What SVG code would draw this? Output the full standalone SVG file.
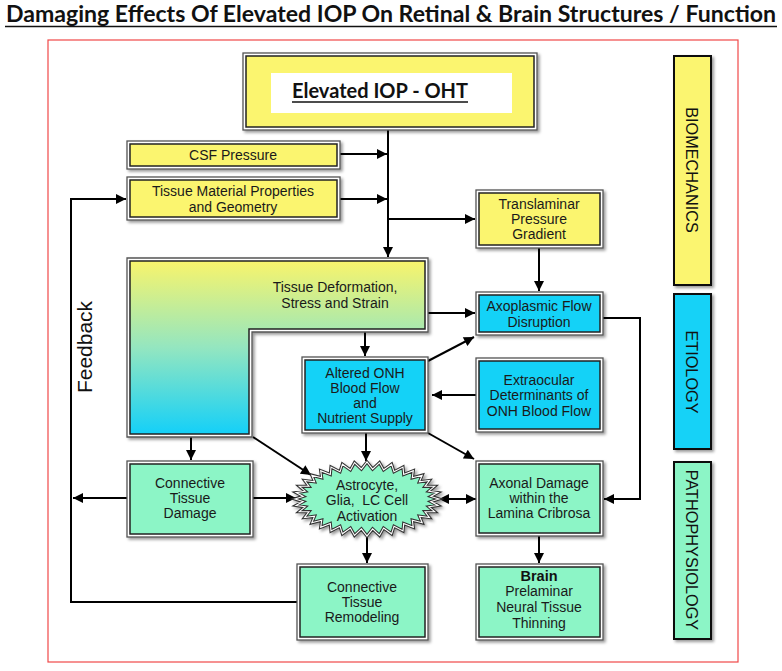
<svg xmlns="http://www.w3.org/2000/svg" width="782" height="671" viewBox="0 0 782 671">
<style>
.t{font-family:"Liberation Sans",Arial,sans-serif;font-size:14px;fill:#1a1a1a;text-anchor:middle}
.side{font-family:"Liberation Sans",Arial,sans-serif;font-size:16.3px;fill:#111;text-anchor:middle}
.ob{fill:#fff;stroke:#555;stroke-width:1.3}
.ib{stroke:#222;stroke-width:1.5}
.y{fill:#fbf56f}
.c{fill:#14d2f7}
.g{fill:#8cf5c6}
.sb{stroke:#111;stroke-width:2}
.cn{fill:none;stroke:#000;stroke-width:2}
</style>
<defs>
<filter id="sh" x="-10%" y="-10%" width="130%" height="130%"><feDropShadow dx="2" dy="2" stdDeviation="1.5" flood-color="#000" flood-opacity="0.4"/></filter>
<linearGradient id="grad" x1="0" y1="261" x2="0" y2="434" gradientUnits="userSpaceOnUse"><stop offset="0" stop-color="#f8f46c"/><stop offset="0.5" stop-color="#94e6c0"/><stop offset="1" stop-color="#14d0f8"/></linearGradient>
<marker id="ah" viewBox="0 0 10 10" refX="10" refY="5" markerWidth="11" markerHeight="10" markerUnits="userSpaceOnUse" orient="auto-start-reverse"><path d="M0,0 L10,5 L0,10 Z" fill="#000"/></marker>
</defs>
<rect width="782" height="671" fill="#fff"/>
<g id="title">
<text x="391" y="22" font-family="Lato,'Liberation Sans',sans-serif" font-weight="700" font-size="22.5" text-anchor="middle" textLength="770" lengthAdjust="spacingAndGlyphs" fill="#111">Damaging Effects Of Elevated IOP On Retinal &amp; Brain Structures / Function</text>
<line x1="5" y1="26.5" x2="777" y2="26.5" stroke="#111" stroke-width="1.6"/>
</g>
<rect id="frame" x="48" y="40" width="690" height="622" fill="none" stroke="#f04848" stroke-width="1.2"/>

<g id="connectors">
<line class="cn" x1="388" y1="130" x2="388" y2="257" marker-end="url(#ah)"/>
<line class="cn" x1="340" y1="154" x2="387" y2="154" marker-end="url(#ah)"/>
<line class="cn" x1="340" y1="199" x2="387" y2="199" marker-end="url(#ah)"/>
<line class="cn" x1="388" y1="219" x2="475" y2="219" marker-end="url(#ah)"/>
<line class="cn" x1="539" y1="248" x2="539" y2="291" marker-end="url(#ah)"/>
<line class="cn" x1="428" y1="313" x2="475" y2="313" marker-end="url(#ah)"/>
<polyline class="cn" points="603,318 640,318 640,499 604,499" marker-end="url(#ah)"/>
<line class="cn" x1="365" y1="332" x2="365" y2="356" marker-end="url(#ah)"/>
<line class="cn" x1="428" y1="361" x2="474" y2="337" marker-end="url(#ah)"/>
<line class="cn" x1="476" y1="395" x2="432" y2="395" marker-end="url(#ah)"/>
<line class="cn" x1="428" y1="433" x2="474" y2="459" marker-end="url(#ah)"/>
<line class="cn" x1="366" y1="433" x2="366" y2="461" marker-end="url(#ah)"/>
<line class="cn" x1="191" y1="437" x2="191" y2="460" marker-end="url(#ah)"/>
<line class="cn" x1="253" y1="437" x2="311" y2="475" marker-end="url(#ah)"/>
<line class="cn" x1="127" y1="498" x2="73" y2="498" marker-end="url(#ah)"/>
<line class="cn" x1="253" y1="498" x2="296" y2="498" marker-end="url(#ah)"/>
<line class="cn" x1="439" y1="499" x2="476" y2="499" marker-start="url(#ah)" marker-end="url(#ah)"/>
<line class="cn" x1="367" y1="536" x2="367" y2="563" marker-end="url(#ah)"/>
<line class="cn" x1="539" y1="536" x2="539" y2="563" marker-end="url(#ah)"/>
<polyline class="cn" points="297,602 71,602 71,199 126,199" marker-end="url(#ah)"/>
</g>

<g id="elevated-iop">
<rect class="ob" x="243" y="53" width="294" height="77" filter="url(#sh)"/>
<rect class="ib y" x="246" y="56" width="288" height="71"/>
<rect x="271" y="73" width="241" height="40" fill="#fff"/>
<text x="380" y="98" font-family="Lato,'Liberation Sans',sans-serif" font-weight="700" font-size="21" text-anchor="middle" textLength="176" lengthAdjust="spacingAndGlyphs" fill="#111">Elevated IOP - OHT</text>
<line x1="292" y1="102" x2="468" y2="102" stroke="#111" stroke-width="1.5"/>
</g>

<g id="csf-pressure">
<rect class="ob" x="127" y="141" width="213" height="28" filter="url(#sh)"/>
<rect class="ib y" x="130" y="144" width="207" height="22"/>
<text class="t" x="233" y="160">CSF Pressure</text>
</g>

<g id="tissue-material">
<rect class="ob" x="127" y="177" width="213" height="43" filter="url(#sh)"/>
<rect class="ib y" x="130" y="180" width="207" height="37"/>
<text class="t" x="233" y="196">Tissue Material Properties</text>
<text class="t" x="233" y="212">and Geometry</text>
</g>

<g id="translaminar">
<rect class="ob" x="476" y="190" width="127" height="58" filter="url(#sh)"/>
<rect class="ib y" x="479" y="193" width="121" height="52"/>
<text class="t" x="539" y="209">Translaminar</text>
<text class="t" x="539" y="224">Pressure</text>
<text class="t" x="539" y="239">Gradient</text>
</g>

<g id="tissue-deformation">
<path class="ob" d="M127,258 H428 V332 H252 V437 H127 Z" filter="url(#sh)"/>
<path d="M130,261 H425 V329 H249 V434 H130 Z" fill="url(#grad)" stroke="#222" stroke-width="1.5"/>
<text class="t" x="335" y="292">Tissue Deformation,</text>
<text class="t" x="335" y="308">Stress and Strain</text>
</g>

<g id="axoplasmic">
<rect class="ob" x="476" y="292" width="127" height="43" filter="url(#sh)"/>
<rect class="ib c" x="479" y="295" width="121" height="37"/>
<text class="t" x="539" y="311">Axoplasmic Flow</text>
<text class="t" x="539" y="327">Disruption</text>
</g>

<g id="altered-onh">
<rect class="ob" x="302" y="357" width="126" height="76" filter="url(#sh)"/>
<rect class="ib c" x="305" y="360" width="120" height="70"/>
<text class="t" x="365" y="378">Altered ONH</text>
<text class="t" x="365" y="393">Blood Flow</text>
<text class="t" x="365" y="408">and</text>
<text class="t" x="365" y="423">Nutrient Supply</text>
</g>

<g id="extraocular">
<rect class="ob" x="476" y="358" width="127" height="74" filter="url(#sh)"/>
<rect class="ib c" x="479" y="361" width="121" height="68"/>
<text class="t" x="539" y="385">Extraocular</text>
<text class="t" x="539" y="400">Determinants of</text>
<text class="t" x="539" y="416">ONH Blood Flow</text>
</g>

<g id="connective-damage">
<rect class="ob" x="127" y="461" width="126" height="76" filter="url(#sh)"/>
<rect class="ib g" x="130" y="464" width="120" height="70"/>
<text class="t" x="190" y="488">Connective</text>
<text class="t" x="190" y="503">Tissue</text>
<text class="t" x="190" y="518">Damage</text>
</g>

<g id="astrocyte">
<polygon filter="url(#sh)" fill="#8cf5c6" stroke="#333" stroke-width="3.2" stroke-linejoin="miter" points="439,499 430.8,501.6 437.9,505.4 428.8,506.8 434.7,511.7 425,511.7 429.4,517.5 419.4,516.2 422.2,522.8 412.3,520.2 413.3,527.3 403.7,523.6 403,531 394,526.2 391.6,533.8 383.6,528 379.5,535.4 372.6,528.9 367,536 361.4,528.9 354.5,535.4 350.4,528 342.4,533.8 340,526.2 331,531 330.3,523.6 320.7,527.3 321.7,520.2 311.8,522.8 314.6,516.2 304.6,517.5 309,511.7 299.3,511.7 305.2,506.8 296.1,505.4 303.2,501.6 295,499 303.2,496.4 296.1,492.6 305.2,491.2 299.3,486.3 309,486.3 304.6,480.5 314.6,481.8 311.8,475.2 321.7,477.8 320.7,470.7 330.3,474.4 331,467 340,471.8 342.4,464.2 350.4,470 354.5,462.6 361.4,469.1 367,462 372.6,469.1 379.5,462.6 383.6,470 391.6,464.2 394,471.8 403,467 403.7,474.4 413.3,470.7 412.3,477.8 422.2,475.2 419.4,481.8 429.4,480.5 425,486.3 434.7,486.3 428.8,491.2 437.9,492.6 430.8,496.4"/>
<polygon fill="none" stroke="#fff" stroke-width="1.1" points="439,499 430.8,501.6 437.9,505.4 428.8,506.8 434.7,511.7 425,511.7 429.4,517.5 419.4,516.2 422.2,522.8 412.3,520.2 413.3,527.3 403.7,523.6 403,531 394,526.2 391.6,533.8 383.6,528 379.5,535.4 372.6,528.9 367,536 361.4,528.9 354.5,535.4 350.4,528 342.4,533.8 340,526.2 331,531 330.3,523.6 320.7,527.3 321.7,520.2 311.8,522.8 314.6,516.2 304.6,517.5 309,511.7 299.3,511.7 305.2,506.8 296.1,505.4 303.2,501.6 295,499 303.2,496.4 296.1,492.6 305.2,491.2 299.3,486.3 309,486.3 304.6,480.5 314.6,481.8 311.8,475.2 321.7,477.8 320.7,470.7 330.3,474.4 331,467 340,471.8 342.4,464.2 350.4,470 354.5,462.6 361.4,469.1 367,462 372.6,469.1 379.5,462.6 383.6,470 391.6,464.2 394,471.8 403,467 403.7,474.4 413.3,470.7 412.3,477.8 422.2,475.2 419.4,481.8 429.4,480.5 425,486.3 434.7,486.3 428.8,491.2 437.9,492.6 430.8,496.4"/>
<text class="t" x="367" y="490">Astrocyte,</text>
<text class="t" x="367" y="505" xml:space="preserve">Glia,  LC Cell</text>
<text class="t" x="367" y="521">Activation</text>
</g>

<g id="axonal-damage">
<rect class="ob" x="476" y="461" width="127" height="75" filter="url(#sh)"/>
<rect class="ib g" x="479" y="464" width="121" height="69"/>
<text class="t" x="539" y="488">Axonal Damage</text>
<text class="t" x="539" y="503">within the</text>
<text class="t" x="539" y="518">Lamina Cribrosa</text>
</g>

<g id="connective-remodeling">
<rect class="ob" x="297" y="564" width="131" height="76" filter="url(#sh)"/>
<rect class="ib g" x="300" y="567" width="125" height="70"/>
<text class="t" x="362" y="592">Connective</text>
<text class="t" x="362" y="607">Tissue</text>
<text class="t" x="362" y="622">Remodeling</text>
</g>

<g id="brain">
<rect class="ob" x="476" y="564" width="127" height="76" filter="url(#sh)"/>
<rect class="ib g" x="479" y="567" width="121" height="70"/>
<text x="539" y="581" font-family="'Liberation Sans',Arial,sans-serif" font-weight="700" font-size="14.5" text-anchor="middle" fill="#111">Brain</text>
<text class="t" x="539" y="596">Prelaminar</text>
<text class="t" x="539" y="612">Neural Tissue</text>
<text class="t" x="539" y="628">Thinning</text>
</g>

<g id="feedback-label">
<text transform="translate(92,347) rotate(-90)" font-family="'Liberation Sans',Arial,sans-serif" font-size="21" text-anchor="middle" fill="#111">Feedback</text>
</g>

<g id="biomechanics">
<rect class="y sb" x="674" y="56" width="37" height="229" filter="url(#sh)"/>
<text class="side" transform="translate(686,170) rotate(90)">BIOMECHANICS</text>
</g>
<g id="etiology">
<rect class="c sb" x="674" y="294" width="37" height="155" filter="url(#sh)"/>
<text class="side" transform="translate(686,372) rotate(90)">ETIOLOGY</text>
</g>
<g id="pathophysiology">
<rect class="g sb" x="674" y="462" width="37" height="177" filter="url(#sh)"/>
<text class="side" transform="translate(686,550) rotate(90)">PATHOPHYSIOLOGY</text>
</g>
</svg>
